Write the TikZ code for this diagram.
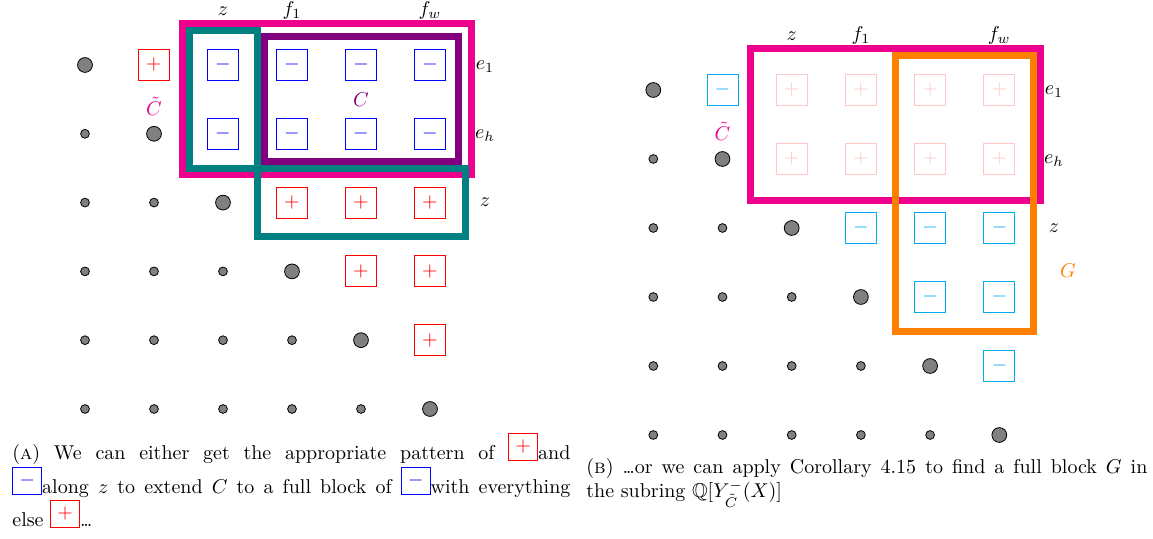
\documentclass[tikz,border=0pt]{standalone}
\usepackage{amssymb}
\definecolor{mag}{RGB}{236,0,140}
\definecolor{tealc}{RGB}{0,128,128}
\definecolor{purp}{RGB}{128,0,128}
\definecolor{orng}{RGB}{255,128,0}
\definecolor{cyn}{RGB}{0,174,239}
\definecolor{dotg}{RGB}{128,128,128}
\newcommand\sgnbox[2]{{\setlength\fboxsep{0pt}\setlength\fboxrule{0.45pt}\fcolorbox{#1}{white}{\parbox[b][13pt][c]{14pt}{\centering\textcolor{#1}{$#2$}}}}}
\newcommand\tdots{.\kern-1.1pt.\kern-1.1pt.}
\begin{document}
\begin{tikzpicture}[x=0.5pt,y=-0.5pt,
  sq/.style={draw, minimum size=15.5pt, inner sep=0pt, line width=0.45pt},
  bigdot/.style={circle, fill=dotg, draw=black, line width=0.4pt, minimum size=7.4pt, inner sep=0pt},
  smalldot/.style={circle, fill=dotg, draw=black, line width=0.4pt, minimum size=4.4pt, inner sep=0pt},
  frame/.style={line width=3.5pt},
  lbl/.style={inner sep=0pt, anchor=base},
  captxt/.style={anchor=base west, align=justify, inner sep=0pt}]
\useasboundingbox (0,0) rectangle (1153,539);

% ---------- Panel A ----------
\draw[frame, mag] (182,23.5) rectangle (471.5,174.5);
\draw[frame, tealc] (189,30.3) rectangle (257.5,169);
\draw[frame, tealc] (257.5,169) rectangle (465,236.5);
\draw[frame, purp] (264.7,37) rectangle (458.3,161.7);

\foreach \r/\c in {1/1,2/2,3/3,4/4,5/5,6/6}
  \node[bigdot] (a\r\c) at ({85+69*(\c-1)},{65+68.8*(\r-1)}) {};
\foreach \r/\c in {2/1,3/1,3/2,4/1,4/2,4/3,5/1,5/2,5/3,5/4,6/1,6/2,6/3,6/4,6/5}
  \node[smalldot] (a\r\c) at ({85+69*(\c-1)},{65+68.8*(\r-1)}) {};
\foreach \r/\c in {1/2,3/4,3/5,3/6,4/5,4/6,5/6}
  \node[sq, draw=red, text=red] (a\r\c) at ({85+69*(\c-1)},{65+68.8*(\r-1)}) {$+$};
\foreach \r/\c in {1/3,1/4,1/5,1/6,2/3,2/4,2/5,2/6}
  \node[sq, draw=blue, text=blue] (a\r\c) at ({85+69*(\c-1)},{65+68.8*(\r-1)}) {$-$};

\node[lbl] (az) at (223,16) {$z$};
\node[lbl] (af1) at (292,16) {$f_1$};
\node[lbl] (afw) at (430,16) {$f_w$};
\node[lbl] (ae1) at (485,69.5) {$e_1$};
\node[lbl] (aeh) at (485,138.3) {$e_h$};
\node[lbl] (az2) at (485,207) {$z$};
\node[lbl, text=mag] (aCt) at (154,116) {$\tilde{C}$};
\node[lbl, text=purp] (aC) at (361,106.5) {$C$};

\node[captxt, text width=279pt] (capA) at (12,460)
  {\lineskip=1.6pt(\textsc{a})\ We can either get the appropriate pattern of \sgnbox{red}{+}and\linebreak
   \sgnbox{blue}{-}along $z$ to extend $C$ to a full block of \sgnbox{blue}{-}with everything\linebreak
   else \sgnbox{red}{+}\tdots};

% ---------- Panel B ----------
\draw[frame, mag] (750.7,48.3) rectangle (1040.3,200.8);
\draw[frame, orng] (895.7,56) rectangle (1033.3,331.7);

\foreach \r/\c in {1/1,2/2,3/3,4/4,5/5,6/6}
  \node[bigdot] (b\r\c) at ({653.3+69.2*(\c-1)},{90+69*(\r-1)}) {};
\foreach \r/\c in {2/1,3/1,3/2,4/1,4/2,4/3,5/1,5/2,5/3,5/4,6/1,6/2,6/3,6/4,6/5}
  \node[smalldot] (b\r\c) at ({653.3+69.2*(\c-1)},{90+69*(\r-1)}) {};
\foreach \r/\c in {1/2,3/4,3/5,3/6,4/5,4/6,5/6}
  \node[sq, draw=cyn, text=cyn] (b\r\c) at ({653.3+69.2*(\c-1)},{90+69*(\r-1)}) {$-$};
\foreach \r/\c in {1/3,1/4,1/5,1/6,2/3,2/4,2/5,2/6}
  \node[sq, draw=red!22, text=red!22] (b\r\c) at ({653.3+69.2*(\c-1)},{90+69*(\r-1)}) {$+$};

\node[lbl] (bz) at (791.7,40.5) {$z$};
\node[lbl] (bf1) at (860.9,40.5) {$f_1$};
\node[lbl] (bfw) at (999.3,40.5) {$f_w$};
\node[lbl] (be1) at (1054,94.5) {$e_1$};
\node[lbl] (beh) at (1054,163.5) {$e_h$};
\node[lbl] (bz2) at (1054,232.5) {$z$};
\node[lbl, text=mag] (bCt) at (722.5,141) {$\tilde{C}$};
\node[lbl, text=orng] (bG) at (1068,278) {$G$};

\node[captxt, text width=280.5pt] (capB) at (586,474)
  {\setlength\baselineskip{13.5pt}(\textsc{b})\ \tdots or we can apply Corollary 4.15 to find a full block $G$ in\linebreak
   the subring $\mathbb{Q}[Y^-_{\tilde{C}}(X)]$};
\end{tikzpicture}
\end{document}
